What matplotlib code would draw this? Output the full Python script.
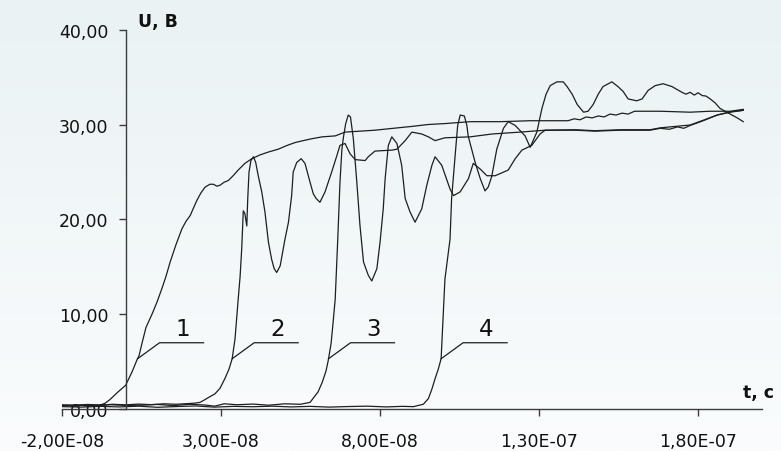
import numpy as np
import matplotlib.pyplot as plt
from matplotlib.colors import LinearSegmentedColormap
from matplotlib.ticker import FixedLocator, FuncFormatter

plt.rcParams['font.family'] = ['DejaVu Sans']

# Voltage transients, time in ns, voltage in V
t1 = [-20, -18, -16, -14, -12, -10, -8.0, -6.5, -4.9, -2.4, 0.0, 2.0, 3.6, 4.2, 5.2, 6.4,
      8.3, 9.9, 11.4, 12.7, 14.0, 15.8, 17.7, 19.0, 20.3, 22.4, 23.7, 25.0, 26.5, 27.6, 28.7,
      29.7, 30.9, 32.3, 33.8, 35.4, 37.5, 39.7, 42.3, 44.9, 48.0, 50.8, 53.3, 55.8, 58.5, 61.8,
      65.9, 69.0, 73.7, 78.4, 84.1, 90.0, 95.1, 100.4, 108.3, 117.7, 127.2, 139.1, 141.0, 142.9,
      144.8, 146.7, 148.6, 150.5, 152.3, 154.2, 156.1, 158.0, 160.0, 161.8, 168.1, 177.5, 183.8,
      190.1, 194.2]
u1 = [0.30, 0.35, 0.28, 0.38, 0.32, 0.40, 0.42, 0.6, 1.0, 1.8, 2.5, 3.9, 5.2, 5.6, 7.0, 8.6,
      10.0, 11.3, 12.7, 14.0, 15.5, 17.3, 19.0, 19.8, 20.4, 22.0, 22.8, 23.4, 23.7, 23.7, 23.5,
      23.6, 23.9, 24.1, 24.6, 25.2, 25.9, 26.4, 26.8, 27.1, 27.4, 27.8, 28.1, 28.3, 28.5, 28.7,
      28.8, 29.2, 29.3, 29.4, 29.6, 29.8, 30.0, 30.1, 30.3, 30.3, 30.4, 30.4, 30.6, 30.5,
      30.8, 30.7, 30.9, 30.8, 31.1, 31.0, 31.2, 31.1, 31.4, 31.4, 31.4, 31.3, 31.4,
      31.4, 31.6]

t2 = [-20, -16, -12, -8, -4, 0, 4, 8, 12, 16, 20, 21.8, 23.4, 25.0, 26.5, 28.1, 29.7, 31.2,
      32.5, 33.5, 34.4, 35.4, 36.0, 36.5, 37.0, 37.5, 38.1, 38.4, 38.8, 39.4, 40.2, 40.9, 41.7,
      42.8, 43.8, 44.9, 45.9, 46.7, 47.5, 48.6, 50.1, 51.2, 52.2, 52.7, 53.8, 55.2, 56.4, 58.0,
      59.0, 59.9, 61.1, 62.7, 64.8, 66.4, 67.4, 69.0, 70.6, 72.2, 75.3, 76.3, 78.4, 83.7, 85.3,
      87.9, 90.0, 93.1, 95.2, 97.3, 100.4, 108.3, 115.2, 124.0, 131.9, 141.3, 147.6, 155.5,
      164.9, 168.1, 171.0, 173.5, 175.5, 177.5, 181.6, 186.0, 190.1, 194.2]
u2 = [0.45, 0.40, 0.48, 0.42, 0.50, 0.44, 0.52, 0.46, 0.55, 0.50, 0.58, 0.62, 0.7, 1.0, 1.3,
      1.6, 2.2, 3.2, 4.2, 5.3, 7.4, 11.6, 14.0, 16.9, 20.9, 20.6, 19.3, 22.2, 25.0, 26.2, 26.6,
      26.0, 24.6, 22.9, 20.8, 17.6, 15.8, 14.8, 14.4, 15.1, 17.9, 19.7, 22.5, 25.0, 26.0, 26.4,
      25.9, 23.9, 22.7, 22.2, 21.8, 22.9, 25.0, 26.7, 27.8, 28.0, 26.9, 26.3, 26.2, 26.6, 27.2,
      27.3, 27.4, 28.3, 29.2, 29.0, 28.7, 28.3, 28.6, 28.7, 29.0, 29.2, 29.4, 29.4, 29.3, 29.4,
      29.4, 29.6, 29.5, 29.75, 29.6, 29.9, 30.4, 31.0, 31.3, 31.5]

t3 = [-20, -15, -10, -5, 0, 5, 10, 15, 20, 25, 28, 31, 35, 40, 45, 50, 55.0, 58.0, 58.9, 60.5,
      61.8, 63.0, 63.7, 64.6, 65.2, 65.9, 66.7, 67.4, 68.0, 68.5, 69.2, 70.0, 70.7, 71.6, 72.7,
      73.7, 74.8, 76.3, 77.4, 79.0, 80.0, 81.0, 81.6, 82.6, 83.7, 85.3, 86.8, 87.9, 89.4, 91.0,
      93.1, 94.7, 96.3, 97.3, 99.4, 102.0, 103.1, 105.2, 107.8, 109.3, 111.5, 113.6, 116.2,
      120.3, 122.5, 124.6, 127.7, 130.3, 131.9, 141.3, 147.6, 155.5, 164.9, 168.1, 177.5,
      181.6, 186.0, 190.1, 194.2]
u3 = [0.35, 0.42, 0.30, 0.45, 0.38, 0.40, 0.48, 0.36, 0.50, 0.42, 0.30, 0.55, 0.45, 0.52, 0.40,
      0.55, 0.5, 0.7, 1.1, 1.8, 2.8, 4.0, 5.1, 6.9, 9.0, 11.6, 17.9, 23.9, 27.4, 28.7, 30.1,
      31.0, 30.8, 28.5, 23.9, 19.3, 15.5, 14.1, 13.5, 14.8, 17.6, 21.1, 24.3, 27.8, 28.7, 28.0,
      25.7, 22.2, 20.8, 19.7, 21.1, 23.6, 25.7, 26.6, 25.7, 23.2, 22.5, 22.9, 24.3, 25.9, 25.3,
      24.6, 24.6, 25.2, 26.4, 27.3, 27.8, 29.0, 29.4, 29.45, 29.35, 29.45, 29.45, 29.65, 29.95,
      30.45, 31.0, 31.35, 31.5]

t4 = [-20, -14, -8, -2, 4, 10, 16, 22, 28, 34, 40, 46, 52, 58, 64, 70, 76, 82, 87, 90.5, 93.6,
      95.2, 96.3, 97.3, 98.3, 99.2, 99.4, 99.9, 100.4, 102.0, 102.5, 103.6, 104.4, 105.2, 106.5,
      107.3, 107.7, 109.9, 111.5, 113.0, 114.0, 115.1, 116.7, 118.8, 120.3, 122.5, 125.6, 127.2,
      129.3, 130.9, 132.2, 133.5, 135.6, 137.6, 138.8, 140.4, 142.0, 144.0, 145.4, 147.0, 148.6,
      150.1, 152.9, 154.8, 156.4, 158.0, 160.7, 162.4, 164.3, 166.5, 169.0, 171.8, 174.9, 176.2,
      177.5, 178.8, 180.0, 181.3, 182.5, 183.8, 185.3, 186.9, 190.1, 192.3, 194.2]
u4 = [0.25, 0.20, 0.28, 0.22, 0.30, 0.18, 0.26, 0.32, 0.20, 0.28, 0.24, 0.30, 0.22, 0.28, 0.20,
      0.26, 0.30, 0.22, 0.28, 0.25, 0.5, 1.1, 2.1, 3.2, 4.2, 5.3, 6.7, 10.2, 13.7, 17.9, 22.2,
      26.7, 29.9, 31.0, 30.9, 29.9, 28.8, 26.0, 24.3, 23.0, 23.4, 24.5, 27.4, 29.6, 30.3, 29.9,
      28.8, 27.6, 29.2, 31.7, 33.2, 34.1, 34.5, 34.5, 34.0, 33.2, 32.1, 31.3, 31.4, 32.1, 33.2,
      34.0, 34.5, 34.0, 33.5, 32.7, 32.5, 32.7, 33.6, 34.1, 34.3, 34.0, 33.4, 33.2,
      33.4, 33.1, 33.35, 33.05, 33.0, 32.7, 32.3, 31.7, 31.1, 30.7, 30.3]

curve_names = ['1', '2', '3', '4']
x_ticks = [-2e-8, 3e-8, 8e-8, 1.3e-7, 1.8e-7]
y_ticks = [0, 10, 20, 30, 40]
label_level = 5.3  # voltage where the leader line touches each curve

LINE = '#1e1e1e'
AXIS = '#3c3c3c'

fig = plt.figure(figsize=(7.81, 4.52), dpi=100)

# soft vertical gradient behind everything
bg = fig.add_axes([0, 0, 1, 1], zorder=-10)
bg.axis('off')
cmap = LinearSegmentedColormap.from_list('bg', ['#eaf2f4', '#fafcfd'])
bg.imshow(np.linspace(0, 1, 256).reshape(-1, 1), aspect='auto', cmap=cmap,
          extent=[0, 1, 0, 1])

ax = fig.add_axes([0.0794, 0.0929, 0.8959, 0.8392])
ax.set_facecolor('none')

curves = [(t1, u1), (t2, u2), (t3, u3), (t4, u4)]
for t, u in curves:
    ax.plot(np.array(t) * 1e-9, u, color=LINE, lw=0.9, solid_joinstyle='round')

ax.set_xlim(-2e-8, 2.0e-7)
ax.set_ylim(0, 40)

for s in ('top', 'right'):
    ax.spines[s].set_visible(False)
ax.spines['left'].set_position(('data', 0))
for s in ('left', 'bottom'):
    ax.spines[s].set_color(AXIS)
    ax.spines[s].set_linewidth(1.0)

ax.xaxis.set_major_locator(FixedLocator(x_ticks))
ax.yaxis.set_major_locator(FixedLocator(y_ticks))
ax.xaxis.set_major_formatter(FuncFormatter(lambda v, p: f"{v:.2E}".replace('.', ',')))
ax.yaxis.set_major_formatter(FuncFormatter(lambda v, p: f"{v:.2f}".replace('.', ',')))
ax.tick_params(axis='both', direction='out', length=5, width=1.0, color=AXIS,
               labelsize=12.5, labelcolor='#111111')
ax.tick_params(axis='x', pad=11.5)
ax.tick_params(axis='y', pad=7.5)

fig.text(138 / 781, 1 - 22 / 452, 'U, B', fontsize=12.5, fontweight='bold',
         ha='left', va='center', color='#111111')
fig.text(743 / 781, 1 - 393 / 452, 't, c', fontsize=12.5, fontweight='bold',
         ha='left', va='center', color='#111111')

# numbered leader lines attached to the rising edge of each curve
fig.canvas.draw()
inv = ax.transData.inverted()
for (t, u), name in zip(curves, curve_names):
    tt = np.array(t) * 1e-9
    uu = np.array(u)
    i = int(np.argmax(uu >= label_level))
    ta = np.interp(label_level, [uu[i - 1], uu[i]], [tt[i - 1], tt[i]])
    p0 = ax.transData.transform((ta, label_level))
    p1 = p0 + np.array([22, 16])
    p2 = p1 + np.array([44, 0])
    pts = inv.transform(np.vstack([p0, p1, p2]))
    ax.plot(pts[:, 0], pts[:, 1], color=LINE, lw=0.9)
    tx, ty = inv.transform(p1 + np.array([23, 3]))
    ax.text(tx, ty, name, fontsize=16.5, ha='center', va='bottom', color='#111111')

fig.savefig('out.png', dpi=100)
